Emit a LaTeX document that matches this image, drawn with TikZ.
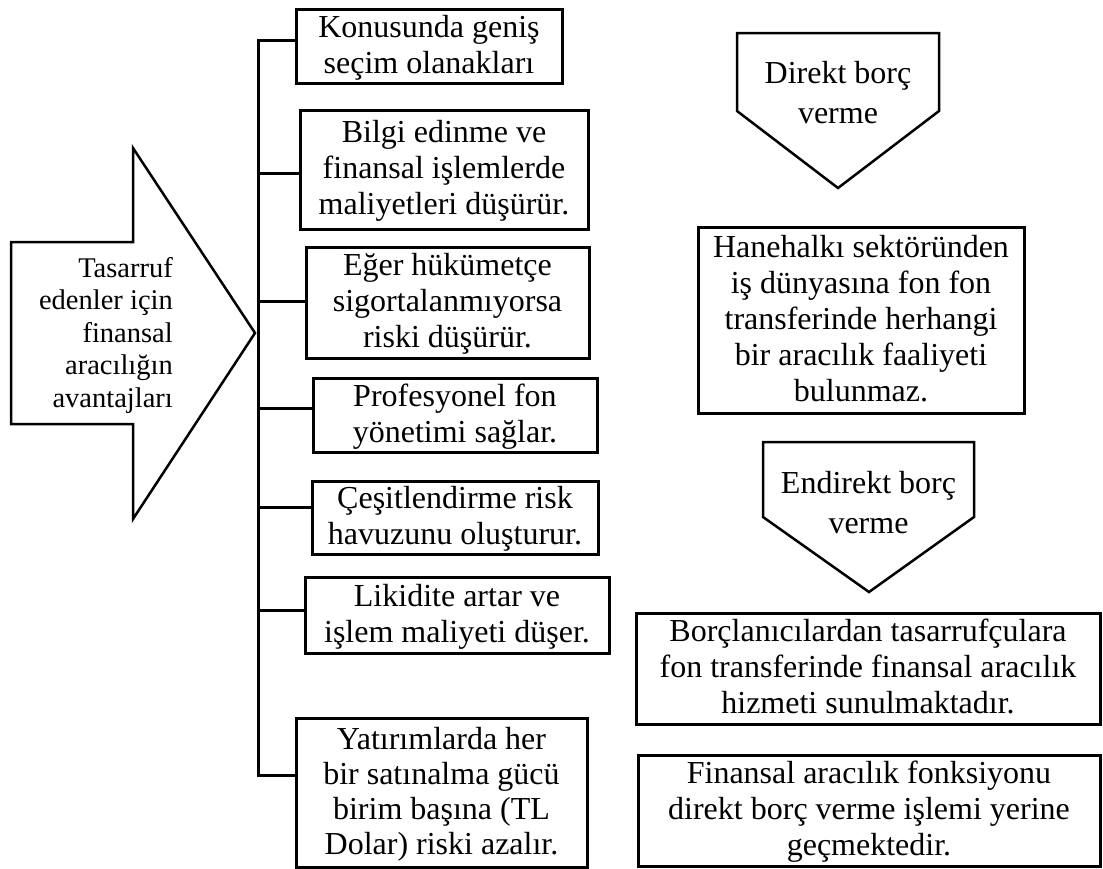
\documentclass[tikz,border=0pt]{standalone}
\usepackage{fontspec}
\setmainfont{Liberation Serif}
% struts fixing the height of the first and the depth of the last line
\newcommand\bxtop{\rule{0pt}{27pt}}
\newcommand\bxbot{\rule[-9pt]{0pt}{0pt}}
\begin{document}
\begin{tikzpicture}[x=1pt,y=-1pt,line join=miter,
  box/.style={draw,line width=3pt,inner sep=0pt,outer sep=0pt,align=center,
    font=\fontsize{32}{36}\selectfont},
  tightbox/.style={box,font=\fontsize{32}{35}\selectfont},
  penttext/.style={inner sep=0pt,align=center,font=\fontsize{32}{40}\selectfont},
  shapeline/.style={line width=2.5pt},
  spine/.style={line width=3pt}]
\useasboundingbox (0,0) rectangle (1103,868);

% big arrow on the left
\draw[shapeline] (11,242) -- (133,242) -- (133,148) -- (255,333) -- (133,519)
  -- (133,424) -- (11,424) -- cycle;
\node[anchor=east,inner sep=0pt,align=right,font=\fontsize{28.5}{32.5}\selectfont]
  (adv) at (173,335.5)
  {\strut Tasarruf\\ edenler için\\ finansal\\ aracılığın\\ avantajları\strut};

% advantage boxes
\node[box,minimum width=266pt,minimum height=74pt] (b1) at (429,46)
  {\bxtop Konusunda geniş\\ seçim olanakları\bxbot};
\node[box,minimum width=288pt,minimum height=119pt] (b2) at (444,169.5)
  {\bxtop Bilgi edinme ve\\ finansal işlemlerde\\ maliyetleri düşürür.\bxbot};
\node[box,minimum width=283pt,minimum height=111pt] (b3) at (447.5,302.5)
  {\bxtop Eğer hükümetçe\\ sigortalanmıyorsa\\ riski düşürür.\bxbot};
\node[box,minimum width=284pt,minimum height=74pt] (b4) at (455,415)
  {\bxtop Profesyonel fon\\ yönetimi sağlar.\bxbot};
\node[box,minimum width=286pt,minimum height=73pt] (b5) at (455,517.5)
  {\bxtop Çeşitlendirme risk\\ havuzunu oluşturur.\bxbot};
\node[box,minimum width=304pt,minimum height=76pt] (b6) at (457,615)
  {\bxtop Likidite artar ve\\ işlem maliyeti düşer.\bxbot};
\node[tightbox,minimum width=291pt,minimum height=149pt] (b7) at (441.5,792.5)
  {\bxtop Yatırımlarda her\\ bir satınalma gücü\\ birim başına (TL\\ Dolar) riski azalır.\bxbot};

% bracket joining the boxes
\coordinate (t1) at (258,40);
\coordinate (t2) at (258,173);
\coordinate (t3) at (258,301);
\coordinate (t4) at (258,408);
\coordinate (t5) at (258,507);
\coordinate (t6) at (258,610);
\coordinate (t7) at (258,775);
\draw[spine] (t1 -| b1.west) -- (t1) -- (t7) -- (t7 -| b7.west);
\foreach \i in {2,...,6}{\draw[spine] (t\i) -- (t\i -| b\i.west);}

% direct lending
\draw[shapeline] (737,33) -- (939,33) -- (939,111) -- (838,188) -- (737,111) -- cycle;
\node[penttext] (d1) at (838,95) {\strut Direkt borç\\ verme\strut};
\node[box,minimum width=326pt,minimum height=186pt] (d2) at (861,320)
  {\bxtop Hanehalkı sektöründen\\ iş dünyasına fon fon\\ transferinde herhangi\\ bir aracılık faaliyeti\\ bulunmaz.\bxbot};

% indirect lending
\draw[shapeline] (763,442) -- (974,442) -- (974,517) -- (869,592) -- (763,517) -- cycle;
\node[penttext] (e1) at (868.5,505) {\strut Endirekt borç\\ verme\strut};
\node[box,minimum width=464pt,minimum height=111pt] (e2) at (868,668.5)
  {\bxtop Borçlanıcılardan tasarrufçulara\\ fon transferinde finansal aracılık\\ hizmeti sunulmaktadır.\bxbot};
\node[box,minimum width=462pt,minimum height=111pt] (e3) at (869,810.5)
  {\bxtop Finansal aracılık fonksiyonu\\ direkt borç verme işlemi yerine\\ geçmektedir.\bxbot};
\end{tikzpicture}
\end{document}
